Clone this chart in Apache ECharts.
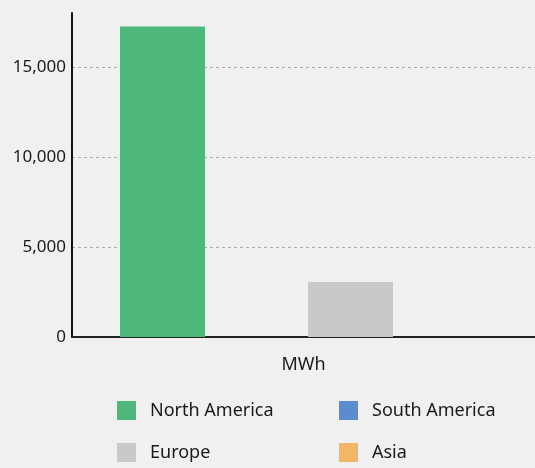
<!DOCTYPE html>
<html lang="en">
<head>
  <meta charset="UTF-8">
  <title>Chart</title>
  <style>
    html, body { margin: 0; padding: 0; background: #f0f0f0; }
    #main { width: 535px; height: 468px; }
  </style>
</head>
<body>
  <div id="main"></div>
  <script src="https://cdn.jsdelivr.net/npm/echarts@6/dist/echarts.min.js"></script>
  <script>
    var categories = ['MWh'];
    var seriesNames = ['North America', 'South America', 'Europe', 'Asia'];
    var northAmerica = [17250];
    var southAmerica = [0];
    var europe = [3050];
    var asia = [0];
    var colors = ['#4db87a', '#5b8ccd', '#c8c9cb', '#f2b766'];

    var myChart = echarts.init(document.getElementById('main'));
    var font = 'Noto Sans';

    var values = [northAmerica, southAmerica, europe, asia];
    var series = [];
    for (var i = 0; i < seriesNames.length; i++) {
      series.push({
        name: seriesNames[i],
        type: 'bar',
        data: values[i],
        barWidth: 85,
        barGap: '10.6%',
        itemStyle: { color: colors[i] }
      });
    }

    // one legend per item so the two columns line up
    var legendPos = [[117, 401], [339, 401], [117, 443], [339, 443]];
    var legends = seriesNames.map(function (n, i) {
      return {
        data: [n],
        left: legendPos[i][0],
        top: legendPos[i][1],
        padding: 0,
        itemWidth: 19,
        itemHeight: 19,
        icon: 'rect',
        selectedMode: false,
        textStyle: { fontFamily: font, fontSize: 18, color: '#1a1a1a', padding: [0, 0, 0, 9] }
      };
    });

    var option = {
      backgroundColor: '#f0f0f0',
      animation: false,
      color: colors,
      legend: legends,
      grid: { left: 72, right: 0, top: 13, bottom: 131, containLabel: false },
      xAxis: {
        type: 'category',
        data: categories,
        axisLine: { lineStyle: { color: '#222', width: 2 } },
        axisTick: { show: false },
        axisLabel: { fontFamily: font, fontSize: 18, color: '#1a1a1a', margin: 19 }
      },
      yAxis: {
        type: 'value',
        min: 0,
        max: 18000,
        interval: 5000,
        axisLine: { show: true, lineStyle: { color: '#111', width: 2 } },
        axisTick: { show: false },
        axisLabel: {
          fontFamily: font, fontSize: 17, color: '#1a1a1a', margin: 6, showMaxLabel: false,
          formatter: function (v) { return v === 18000 ? '' : v.toLocaleString('en-US'); }
        },
        splitLine: { showMaxLine: false, lineStyle: { color: '#aaa', type: [3, 3], width: 1 } }
      },
      series: series
    };

    myChart.setOption(option);
  </script>
</body>
</html>
